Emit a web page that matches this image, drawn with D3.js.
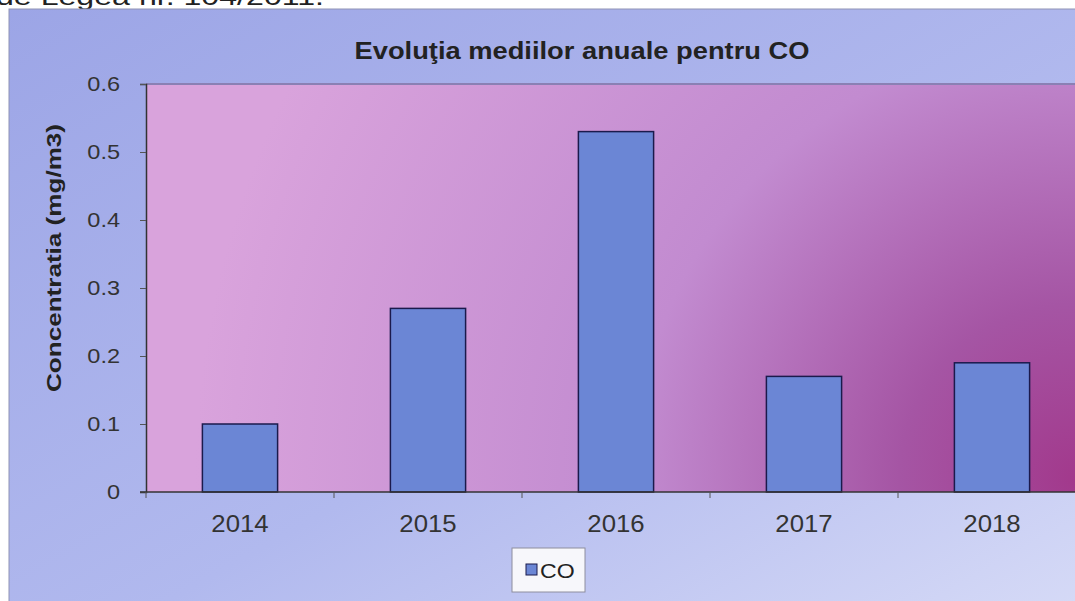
<!DOCTYPE html>
<html>
<head>
<meta charset="utf-8">
<script src="https://cdn.jsdelivr.net/npm/d3@7"></script>
<style>
  body { margin: 0; background: #fff; overflow: hidden; }
  text { font-family: Arial, "Liberation Sans", sans-serif; }
</style>
</head>
<body>
<svg id="chart" width="1075" height="601"></svg>
<script>
var years  = ["2014", "2015", "2016", "2017", "2018"]
var coVals = [0.10, 0.27, 0.53, 0.17, 0.19]
var yTicks = [0, 0.1, 0.2, 0.3, 0.4, 0.5, 0.6]

var svg = d3.select("#chart"),
	margin = {top: 83, left: 146, bottom: 109},
	plotRight = 1086,
	height = +svg.attr("height") - margin.bottom;

// the scan is a bit wider than tall, so stretch the texts sideways
function stretch(sel, k) {
	sel.each(function() {
		var w = this.getComputedTextLength()
		d3.select(this).attr("textLength", w * k).attr("lengthAdjust", "spacingAndGlyphs")
	})
}

var defs = svg.append("defs")

var outerGrad = defs.append("linearGradient")
	.attr("id", "outerGrad")
	.attr("x1", "0").attr("y1", "0").attr("x2", "1").attr("y2", "1")
outerGrad.append("stop").attr("offset", "0").attr("stop-color", "#9ca5e6")
outerGrad.append("stop").attr("offset", "0.55").attr("stop-color", "#b1b9ee")
outerGrad.append("stop").attr("offset", "1").attr("stop-color", "#d8dcf7")

var plotGrad = defs.append("radialGradient")
	.attr("id", "plotGrad")
	.attr("gradientUnits", "userSpaceOnUse")
	.attr("cx", 1075).attr("cy", 480).attr("r", 880)
plotGrad.append("stop").attr("offset", "0").attr("stop-color", "#a2398c")
plotGrad.append("stop").attr("offset", "0.2").attr("stop-color", "#a555a4")
plotGrad.append("stop").attr("offset", "0.5").attr("stop-color", "#c28bd0")
plotGrad.append("stop").attr("offset", "1").attr("stop-color", "#d9a3dc")

// text above the chart, cut by the scan
svg.append("text")
	.attr("x", -4).attr("y", 5)
	.attr("font-size", 24)
	.attr("fill", "#222")
	.text("de Legea nr. 104/2011.")
	.attr("textLength", 328).attr("lengthAdjust", "spacingAndGlyphs")

// chart area
svg.append("rect")
	.attr("x", 9).attr("y", 9)
	.attr("width", 1100).attr("height", 620)
	.attr("fill", "url(#outerGrad)")
	.attr("stroke", "#8f93b5")

var x = d3.scaleBand()
	.domain(years)
	.range([margin.left, plotRight])
	.paddingInner(0.6)
	.paddingOuter(0.3)

var y = d3.scaleLinear()
	.domain([0, 0.6])
	.range([height, margin.top + 1])

// plot area
svg.append("rect")
	.attr("x", margin.left).attr("y", y(0.6))
	.attr("width", plotRight - margin.left)
	.attr("height", y(0) - y(0.6))
	.attr("fill", "url(#plotGrad)")

svg.append("line")
	.attr("x1", margin.left).attr("x2", 1075)
	.attr("y1", y(0.6)).attr("y2", y(0.6))
	.attr("stroke", "#8a80b4").attr("stroke-width", 2)

svg.append("text")
	.attr("x", 582).attr("y", 59)
	.attr("text-anchor", "middle")
	.attr("font-size", 23).attr("font-weight", "bold")
	.attr("fill", "#222")
	.text("Evoluţia mediilor anuale pentru CO")
	.attr("textLength", 455).attr("lengthAdjust", "spacingAndGlyphs")

svg.append("text")
	.attr("transform", "translate(61,258) rotate(-90)")
	.attr("text-anchor", "middle")
	.attr("font-size", 21).attr("font-weight", "bold")
	.attr("fill", "#222")
	.text("Concentratia (mg/m3)")
	.attr("textLength", 268).attr("lengthAdjust", "spacingAndGlyphs")

svg.selectAll("rect.bar")
	.data(coVals)
	.enter().append("rect")
	.attr("class", "bar")
	.attr("x", (d, i) => x(years[i]))
	.attr("y", d => y(d))
	.attr("width", x.bandwidth())
	.attr("height", d => y(0) - y(d))
	.attr("fill", "#6b86d5")
	.attr("stroke", "#1b1a4c")
	.attr("stroke-width", 1.5)

// y axis
var yAxis = svg.append("g")
	.attr("transform", `translate(${margin.left},0)`)
	.call(d3.axisLeft(y).tickValues(yTicks).tickFormat(d => d === 0 ? "0" : d3.format(".1f")(d)).tickSize(6).tickPadding(20))
yAxis.select(".domain").attr("stroke", "#333").attr("stroke-width", 1.5)
yAxis.selectAll(".tick line").attr("stroke", "#555")
yAxis.selectAll(".tick text").attr("font-size", 21).attr("fill", "#333")
	.attr("font-family", "Arial, 'Liberation Sans', sans-serif")
	.call(stretch, 1.12)

// x axis with ticks at band edges
var step = x.step()
var xAxis = svg.append("g")
	.attr("transform", `translate(0,${y(0)})`)
xAxis.append("line")
	.attr("x1", margin.left - 6).attr("x2", 1075)
	.attr("stroke", "#333").attr("stroke-width", 1.5)
xAxis.selectAll("line.edge")
	.data(d3.range(years.length + 1))
	.enter().append("line")
	.attr("class", "edge")
	.attr("x1", i => margin.left + i * step).attr("x2", i => margin.left + i * step)
	.attr("y1", 0).attr("y2", 6)
	.attr("stroke", "#555")
xAxis.selectAll("text")
	.data(years)
	.enter().append("text")
	.attr("x", d => x(d) + x.bandwidth() / 2)
	.attr("y", 40)
	.attr("text-anchor", "middle")
	.attr("font-size", 23).attr("fill", "#333")
	.text(d => d)
	.call(stretch, 1.12)

// legend
var legend = svg.append("g").attr("transform", "translate(512,548)")
legend.append("rect")
	.attr("width", 73).attr("height", 44)
	.attr("fill", "#f7f7fb").attr("stroke", "#8e8e9e")
legend.append("rect")
	.attr("x", 14).attr("y", 16).attr("width", 11).attr("height", 11)
	.attr("fill", "#6b86d5").attr("stroke", "#1b1a4c")
legend.append("text")
	.attr("x", 28).attr("y", 30)
	.attr("font-size", 21).attr("fill", "#222")
	.text("CO")
	.call(stretch, 1.1)
</script>
</body>
</html>
